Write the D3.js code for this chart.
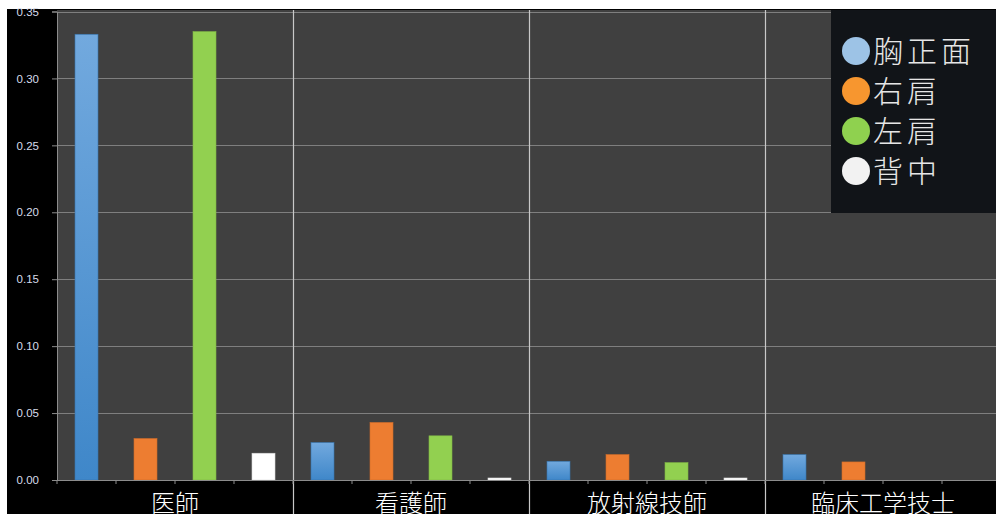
<!DOCTYPE html>
<html>
<head>
<meta charset="utf-8">
<script src="https://d3js.org/d3.v7.min.js"></script>
<style>
  html, body { margin: 0; padding: 0; background: #ffffff; overflow: hidden; }
  svg { display: block; }
</style>
</head>
<body>
<svg></svg>
<script>
// chart data
const categories = ["医師", "看護師", "放射線技師", "臨床工学技士"]
const seriesNames = ["胸正面", "右肩", "左肩", "背中"]
const chestFront = [0.333, 0.028, 0.014, 0.019]
const rightShoulder = [0.031, 0.043, 0.019, 0.0135]
const leftShoulder = [0.335, 0.033, 0.013, 0]
const back = [0.020, 0.0015, 0.0015, 0]
const yTicks = [0, 0.05, 0.10, 0.15, 0.20, 0.25, 0.30, 0.35]

const seriesValues = [chestFront, rightShoulder, leftShoulder, back]
const barColors = ["url(#blueGrad)", "#ed7d31", "#92d050", "#ffffff"]
const legendColors = ["#9dc3e6", "#f7962f", "#8fd14f", "#f2f2f2"]

const width = 996, height = 514
const svg = d3.select("svg").attr("width", width).attr("height", height)

const defs = svg.append("defs")
const grad = defs.append("linearGradient").attr("id", "blueGrad")
  .attr("x1", 0).attr("y1", 0).attr("x2", 0).attr("y2", 1)
grad.append("stop").attr("offset", "0%").attr("stop-color", "#72a9de")
grad.append("stop").attr("offset", "100%").attr("stop-color", "#3f87c9")

// black backdrop with white strips top/left
svg.append("rect").attr("x", 7).attr("y", 9).attr("width", width).attr("height", height)
  .attr("fill", "#000000")

const plotLeft = 57, plotTop = 10, plotBottom = 480, catWidth = 236

const x0 = d3.scaleBand().domain(categories)
  .range([plotLeft, plotLeft + catWidth * categories.length])
const x1 = d3.scaleBand().domain(seriesNames).range([0, x0.bandwidth()])
  .paddingInner(0.61).paddingOuter(0.305)
const y = d3.scaleLinear().domain([0, 0.35]).range([plotBottom, 11.5])

// plot background
svg.append("rect").attr("x", plotLeft).attr("y", plotTop)
  .attr("width", width - plotLeft).attr("height", plotBottom - plotTop)
  .attr("fill", "#404040")

// horizontal gridlines
svg.append("g").selectAll("line").data(yTicks.slice(1)).enter().append("line")
  .attr("x1", plotLeft).attr("x2", width)
  .attr("y1", d => Math.round(y(d)) + 0.5).attr("y2", d => Math.round(y(d)) + 0.5)
  .attr("stroke", "#7f7f7f").attr("stroke-width", 1)

// bars
const catG = svg.append("g").selectAll("g").data(categories).enter().append("g")
  .attr("transform", d => "translate(" + x0(d) + ",0)")
catG.selectAll("rect")
  .data((c, ci) => seriesNames.map((s, si) => ({ s: s, si: si, v: seriesValues[si][ci] })))
  .enter().filter(d => d.v > 0).append("rect")
  .attr("x", d => x1(d.s))
  .attr("width", x1.bandwidth())
  .attr("y", d => y(d.v))
  .attr("height", d => Math.max(1.5, plotBottom - y(d.v)))
  .attr("fill", d => barColors[d.si])
  .attr("stroke", d => d.si === 3 ? "#d9d9d9" : d3.color(d.si === 0 ? "#3f87c9" : barColors[d.si]).darker(0.4))
  .attr("stroke-width", 0.6)

// category separators
svg.append("g").selectAll("line").data(categories.slice(1)).enter().append("line")
  .attr("x1", d => Math.round(x0(d)) + 0.5).attr("x2", d => Math.round(x0(d)) + 0.5)
  .attr("y1", plotTop).attr("y2", height)
  .attr("stroke", "#c8c8c8").attr("stroke-width", 1.2)

// y axis
const yAxis = d3.axisLeft(y).tickValues(yTicks).tickFormat(d3.format(".2f")).tickSize(5).tickPadding(13)
const yg = svg.append("g").attr("transform", "translate(" + plotLeft + ",0)").call(yAxis)
yg.select(".domain").attr("stroke", "#8c8c8c")
yg.selectAll(".tick line").attr("stroke", "#8c8c8c")
yg.selectAll(".tick text").attr("fill", "#d6dcea")
  .style("font-family", "'Liberation Sans', Arial, sans-serif").style("font-size", "11.5px")

// x axis baseline and minor ticks
svg.append("line").attr("x1", plotLeft).attr("x2", width)
  .attr("y1", plotBottom + 0.5).attr("y2", plotBottom + 0.5).attr("stroke", "#8c8c8c")
const minorTicks = []
categories.forEach(c => seriesNames.forEach((s, i) => minorTicks.push(x0(c) + i * x1.step() + x1.paddingOuter() * x1.step() - x1.paddingInner() * x1.step() / 2)))
svg.append("g").selectAll("line").data(minorTicks).enter().append("line")
  .attr("x1", d => d).attr("x2", d => d)
  .attr("y1", plotBottom).attr("y2", plotBottom + 4)
  .attr("stroke", "#8c8c8c")

// category labels (cut at the bottom edge, as in the source)
svg.append("g").selectAll("text").data(categories).enter().append("text")
  .attr("x", d => x0(d) + x0.bandwidth() / 2)
  .attr("y", 512)
  .attr("text-anchor", "middle")
  .attr("fill", "#ffffff")
  .style("font-family", "'Noto Sans CJK JP', sans-serif")
  .style("font-size", "24px")
  .style("font-weight", "300")
  .text(d => d)

// legend
const legend = svg.append("g")
legend.append("rect").attr("x", 831).attr("y", 10).attr("width", width - 831).attr("height", 203)
  .attr("fill", "#111418")
const legRows = legend.selectAll("g").data(seriesNames).enter().append("g")
  .attr("transform", (d, i) => "translate(0," + (51 + i * 40) + ")")
legRows.append("circle").attr("cx", 856).attr("cy", 0).attr("r", 14)
  .attr("fill", (d, i) => legendColors[i])
legRows.append("text").attr("x", 873).attr("y", 11)
  .attr("fill", "#e6e6e6")
  .style("font-family", "'Noto Sans CJK JP', sans-serif")
  .style("font-size", "30px")
  .style("letter-spacing", "4px")
  .style("font-weight", "300")
  .text(d => d)
</script>
</body>
</html>
